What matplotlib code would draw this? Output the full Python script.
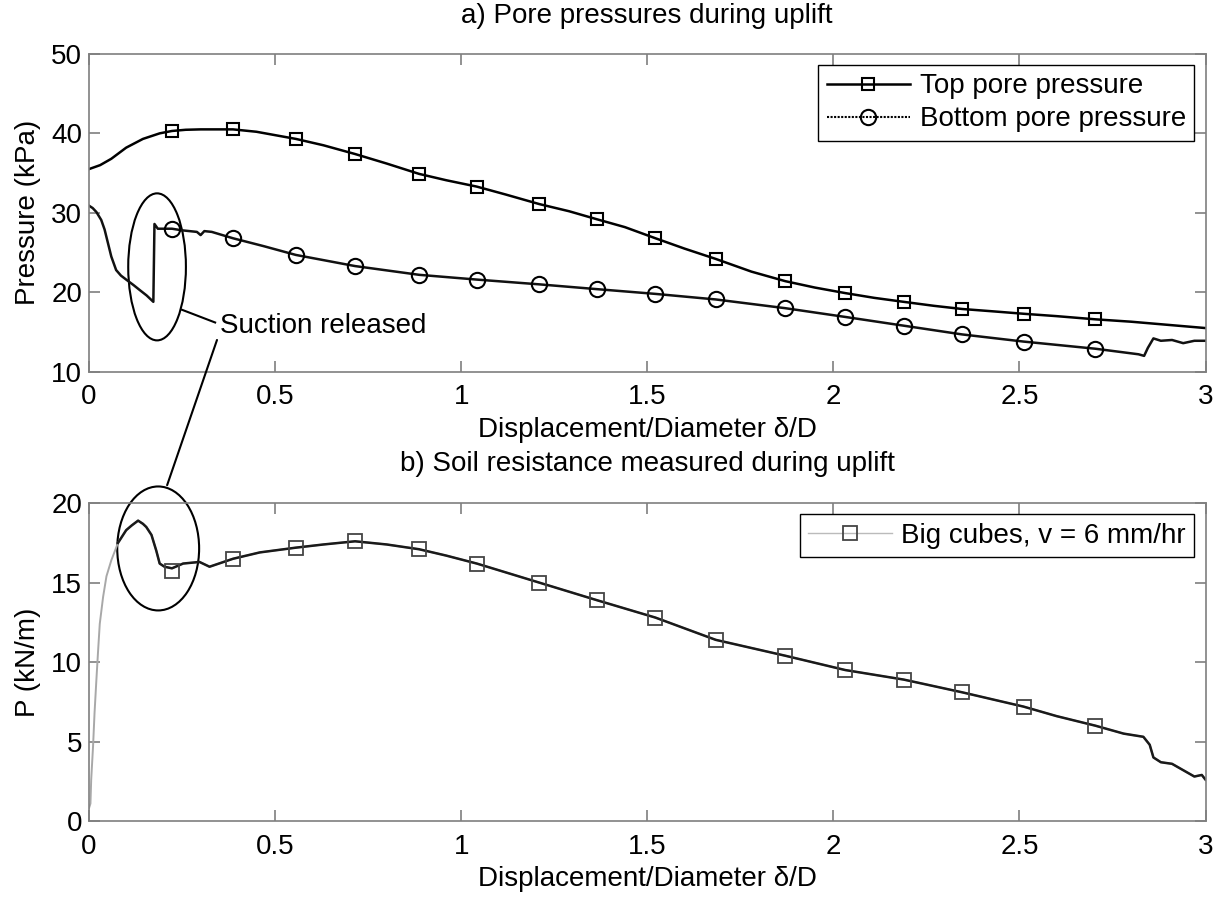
"""
Pore pressures and soil resistance during uplift, two stacked panels.
"""

import matplotlib
matplotlib.use("Agg")
import matplotlib.pyplot as plt
from matplotlib.lines import Line2D
from matplotlib.patches import Ellipse, ConnectionPatch

# a) top pore pressure (kPa)
top_x = [0, 0.03, 0.06, 0.1, 0.145, 0.19, 0.223, 0.26, 0.3, 0.387, 0.45, 0.556,
         0.63, 0.715, 0.8, 0.887, 0.96, 1.042, 1.12, 1.21, 1.29, 1.364, 1.44,
         1.522, 1.6, 1.684, 1.78, 1.871, 1.95, 2.032, 2.11, 2.189, 2.27, 2.346,
         2.43, 2.511, 2.6, 2.704, 2.8, 2.9, 3.0]
top_y = [35.5, 36.0, 36.8, 38.2, 39.3, 40.0, 40.3, 40.45, 40.5, 40.5, 40.2, 39.3,
         38.5, 37.4, 36.2, 34.9, 34.1, 33.3, 32.3, 31.1, 30.2, 29.2, 28.2,
         26.8, 25.5, 24.2, 22.6, 21.4, 20.6, 19.9, 19.3, 18.8, 18.3, 17.9,
         17.6, 17.3, 17.0, 16.6, 16.3, 15.9, 15.5]

# a) bottom pore pressure (kPa)
bot_x = [0, 0.01, 0.02, 0.033, 0.042, 0.051, 0.06, 0.073, 0.086, 0.1, 0.12,
         0.136, 0.155, 0.173, 0.176, 0.185, 0.2, 0.223, 0.25, 0.29, 0.3, 0.31,
         0.33, 0.387, 0.47, 0.556, 0.715, 0.887, 1.042, 1.21, 1.364, 1.522,
         1.684, 1.871, 2.032, 2.189, 2.346, 2.511, 2.704, 2.82, 2.835, 2.845,
         2.86, 2.88, 2.91, 2.94, 2.97, 3.0]
bot_y = [30.9, 30.6, 30.1, 29.1, 27.9, 26.2, 24.5, 22.8, 22.1, 21.6, 20.9,
         20.3, 19.6, 18.8, 28.6, 28.0, 28.0, 28.0, 27.8, 27.6, 27.2, 27.7,
         27.6, 26.8, 25.8, 24.7, 23.3, 22.2, 21.6, 21.0, 20.4, 19.8,
         19.1, 18.0, 16.9, 15.8, 14.7, 13.8, 12.9, 12.2, 12.0, 13.0,
         14.2, 13.9, 14.0, 13.6, 13.9, 13.9]

# marker positions (same displacement for every series)
mark_x = [0.223, 0.387, 0.556, 0.715, 0.887, 1.042, 1.21, 1.364, 1.522, 1.684,
          1.871, 2.032, 2.189, 2.346, 2.511, 2.704]
top_mark_y = [40.3, 40.5, 39.3, 37.4, 34.9, 33.3, 31.1, 29.2, 26.8, 24.2,
              21.4, 19.9, 18.8, 17.9, 17.3, 16.6]
bot_mark_y = [28.0, 26.8, 24.7, 23.3, 22.2, 21.6, 21.0, 20.4, 19.8, 19.1,
              18.0, 16.9, 15.8, 14.7, 13.8, 12.9]

# b) soil resistance P (kN/m)
p_x = [0, 0.004, 0.006, 0.011, 0.015, 0.02, 0.024, 0.029, 0.038, 0.047, 0.06,
       0.078, 0.1, 0.115, 0.132, 0.145, 0.154, 0.168, 0.181, 0.19, 0.203,
       0.223, 0.253, 0.297, 0.324, 0.387, 0.459, 0.556, 0.63, 0.715, 0.8,
       0.887, 0.96, 1.042, 1.21, 1.364, 1.522, 1.684, 1.871, 2.032, 2.189,
       2.346, 2.511, 2.6, 2.704, 2.78, 2.833, 2.85, 2.86, 2.88, 2.91, 2.94,
       2.97, 2.99, 3.0]
p_y = [0.8, 1.1, 2.6, 4.7, 6.8, 8.9, 10.5, 12.4, 14.1, 15.4, 16.4,
       17.5, 18.3, 18.6, 18.9, 18.7, 18.5, 18.0, 17.0, 16.2, 16.0,
       15.9, 16.2, 16.3, 16.0, 16.5, 16.9, 17.2, 17.4, 17.6, 17.4,
       17.1, 16.7, 16.2, 15.0, 13.9, 12.8, 11.4, 10.4, 9.5, 8.9,
       8.1, 7.2, 6.6, 6.0, 5.5, 5.3, 4.8, 4.0, 3.7, 3.6, 3.2,
       2.8, 2.9, 2.6]
p_mark_y = [15.7, 16.5, 17.2, 17.6, 17.1, 16.2, 15.0, 13.9, 12.8, 11.4,
            10.4, 9.5, 8.9, 8.1, 7.2, 6.0]
p_gray_end = 0.078   # initial rise is drawn in light grey

x_ticks = [0, 0.5, 1, 1.5, 2, 2.5, 3]
x_ticklabels = ["0", "0.5", "1", "1.5", "2", "2.5", "3"]

plt.rcParams["font.family"] = ["Liberation Sans", "DejaVu Sans"]
plt.rcParams["font.size"] = 20

fig = plt.figure(figsize=(12.27, 8.98), dpi=100)
ax1 = fig.add_axes([0.0725, 0.586, 0.910, 0.354])
ax2 = fig.add_axes([0.0725, 0.0857, 0.910, 0.354])

spine_grey = "#7f7f7f"


def style_axes(ax):
    for sp in ax.spines.values():
        sp.set_color(spine_grey)
        sp.set_linewidth(1.2)
    ax.tick_params(direction="in", length=8, width=1.2, color=spine_grey,
                   top=True, right=True, labelsize=20)
    ax.tick_params(axis="x", pad=9)
    ax.tick_params(axis="y", pad=5)
    ax.set_xlim(0, 3)
    ax.set_xticks(x_ticks)
    ax.set_xticklabels(x_ticklabels)
    ax.set_xlabel("Displacement/Diameter δ/D", labelpad=5)


def add_legend(ax, handles, labels):
    leg = ax.legend(handles, labels, loc="upper right", fancybox=False,
                    edgecolor="black", framealpha=1, borderpad=0.3,
                    labelspacing=0.25, handlelength=3.0, handletextpad=0.35,
                    borderaxespad=0.4, fontsize=20)
    leg.get_frame().set_linewidth(1.0)
    return leg


# ---- a) pore pressures
ax1.plot(top_x, top_y, color="black", lw=1.8)
ax1.plot(mark_x, top_mark_y, ls="none", marker="s", ms=9, mfc="none",
         mec="black", mew=1.5)
ax1.plot(bot_x, bot_y, color="#111111", lw=1.8)
ax1.plot(mark_x, bot_mark_y, ls="none", marker="o", ms=11, mfc="none",
         mec="black", mew=1.5)
ax1.set_ylim(10, 50)
ax1.set_yticks([10, 20, 30, 40, 50])
ax1.set_ylabel("Pressure (kPa)", labelpad=7)
ax1.set_title("a) Pore pressures during uplift", fontsize=20, pad=22)
style_axes(ax1)

h_top = Line2D([], [], color="black", lw=1.8, marker="s", ms=9, mfc="none",
               mew=1.5)
h_bot = Line2D([], [], color="black", lw=1.5, ls=(0, (1, 0.7)), marker="o",
               ms=11, mfc="none", mew=1.5)
add_legend(ax1, [h_top, h_bot], ["Top pore pressure", "Bottom pore pressure"])

# ---- b) soil resistance
ax2.plot(p_x, p_y, color="#a8a8a8", lw=1.4)
i0 = p_x.index(p_gray_end)
ax2.plot(p_x[i0:], p_y[i0:], color="#1a1a1a", lw=1.8)
ax2.plot(mark_x, p_mark_y, ls="none", marker="s", ms=10, mfc="none",
         mec="#444444", mew=1.3)
ax2.set_ylim(0, 20)
ax2.set_yticks([0, 5, 10, 15, 20])
ax2.set_ylabel("P (kN/m)", labelpad=7)
ax2.set_title("b) Soil resistance measured during uplift", fontsize=20, pad=23)
style_axes(ax2)

h_p = Line2D([], [], color="#bbbbbb", lw=1.0, marker="s", ms=10, mfc="none",
             mec="#444444", mew=1.3)
add_legend(ax2, [h_p], ["Big cubes, v = 6 mm/hr"])

# ---- "Suction released" annotation
ax1.add_patch(Ellipse((0.183, 23.2), 0.155, 18.5, fill=False, ec="black",
                      lw=1.5, clip_on=False))
ax2.add_patch(Ellipse((0.186, 17.15), 0.22, 7.8, fill=False, ec="black",
                      lw=1.5, clip_on=False))
ax1.text(0.352, 15.7, "Suction released", va="center", ha="left", fontsize=20)
ax1.plot([0.339, 0.25], [16.2, 17.8], color="black", lw=1.5)
con = ConnectionPatch(xyA=(0.344, 14.0), coordsA=ax1.transData,
                      xyB=(0.21, 21.13), coordsB=ax2.transData,
                      color="black", lw=1.5)
fig.add_artist(con)

fig.savefig("out.png", dpi=100)
